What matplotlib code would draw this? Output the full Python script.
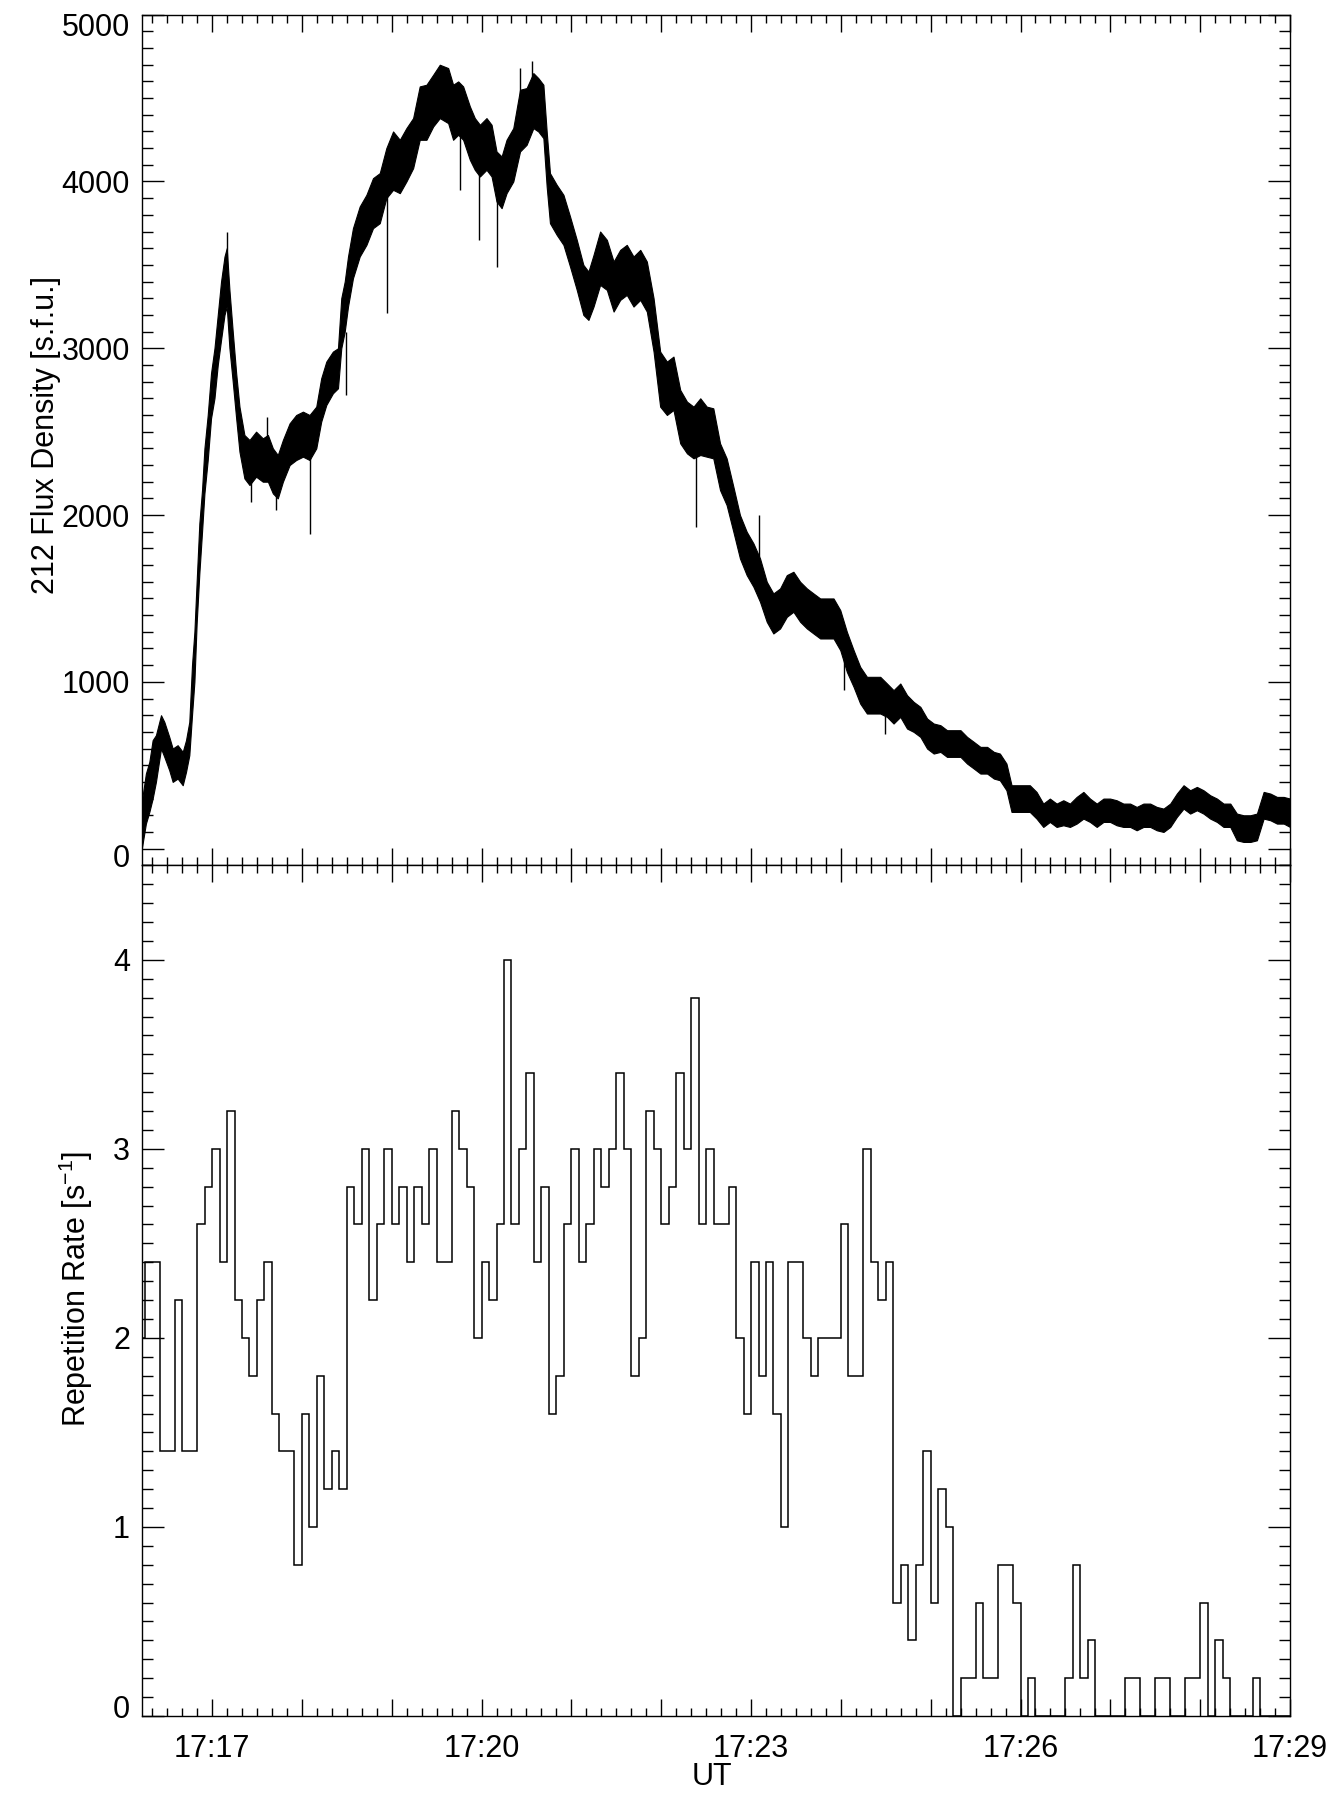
import numpy as np
import matplotlib
matplotlib.use("Agg")
import matplotlib.pyplot as plt
from matplotlib.ticker import FixedLocator, MultipleLocator
from matplotlib.transforms import ScaledTranslation

plt.rcParams['font.family'] = ['Liberation Sans', 'DejaVu Sans']
plt.rcParams['mathtext.fontset'] = 'custom'
plt.rcParams['mathtext.rm'] = 'Liberation Sans'
plt.rcParams['mathtext.it'] = 'Liberation Sans:italic'

# ---------------- data ----------------
# time in seconds after 17:16:00 UT
flux_time_s = [12.5, 15.8, 18.1, 20.3, 22.5, 25.9, 28.1, 31.4, 33.7, 37.0, 40.4, 42.6, 44.8,
               46.6, 48.2, 49.7, 51.5, 53.3, 54.9, 57.1, 59.3, 61.6, 63.8, 66.0, 68.3, 69.8,
               71.6, 73.8, 76.1, 78.3, 81.6, 85.0, 89.4, 93.9, 97.3, 100.6, 103.9, 107.3,
               111.8, 116.2, 120.7, 125.1, 129.6, 132.9, 136.3, 140.7, 144.1, 146.3, 148.6,
               150.8, 154.1, 158.6, 163.1, 167.5, 172.0, 176.4, 180.9, 185.4, 189.8, 194.3,
               198.7, 203.2, 207.7, 212.1, 217.7, 221.0, 224.4, 227.7, 232.2, 235.5, 238.9,
               243.3, 246.7, 250.0, 253.4, 256.7, 261.2, 265.7, 270.1, 274.6, 277.9, 281.3,
               283.5, 285.7, 290.2, 294.7, 299.1, 303.6, 308.0, 311.4, 314.8, 319.2, 323.7,
               328.2, 332.6, 337.0, 341.5, 346.0, 350.4, 354.9, 359.3, 363.8, 368.2, 372.7,
               377.2, 381.6, 386.1, 390.4, 394.8, 399.3, 403.7, 408.2, 412.6, 417.1, 421.6,
               426.0, 430.5, 434.9, 439.4, 443.9, 448.3, 452.8, 457.3, 461.7, 466.2, 470.6,
               475.1, 479.6, 484.0, 488.5, 492.9, 497.4, 501.9, 506.3, 510.8, 515.2, 519.7,
               524.2, 528.6, 533.1, 537.6, 542.0, 546.5, 550.9, 555.4, 559.9, 564.3, 568.8,
               573.2, 577.7, 582.2, 586.2, 590.6, 594.0, 597.3, 601.8, 606.2, 610.7, 615.2,
               619.6, 624.1, 628.6, 633.0, 637.5, 642.0, 646.4, 650.9, 655.4, 659.8, 664.2,
               668.7, 673.2, 677.6, 682.1, 686.6, 691.0, 695.5, 700.0, 704.4, 708.9, 713.3,
               717.8, 722.2, 726.7, 731.2, 735.6, 740.1, 744.5, 749.0, 753.5, 757.9, 762.4,
               766.9, 771.3, 775.8, 780.0]
flux_low = [-30, 150, 220, 300, 400, 600, 550, 470, 400, 420, 380, 460, 560,
            800, 1000, 1350, 1650, 1900, 2130, 2330, 2580, 2700, 2900, 3050, 3200, 3250,
            3000, 2800, 2580, 2380, 2220, 2180, 2230, 2200, 2200, 2130, 2100, 2200,
            2300, 2330, 2350, 2330, 2400, 2560, 2660, 2730, 2760, 3000, 3100,
            3250, 3420, 3550, 3620, 3720, 3750, 3900, 3950, 3930, 4000, 4080,
            4250, 4250, 4330, 4380, 4350, 4250, 4280, 4250, 4130, 4070, 4030,
            4070, 4030, 3880, 3840, 3930, 4000, 4180, 4220, 4320, 4300, 4260,
            3970, 3750, 3680, 3620, 3490, 3350, 3200, 3170, 3250, 3380, 3350,
            3220, 3290, 3320, 3250, 3290, 3220, 2980, 2650, 2600, 2630, 2430,
            2370, 2340, 2360, 2350, 2340, 2150, 2060, 1900, 1740, 1640, 1570,
            1480, 1360, 1290, 1320, 1390, 1420, 1360, 1320, 1290, 1260, 1260,
            1260, 1190, 1060, 970, 870, 810, 810, 810, 790, 750, 790,
            720, 700, 670, 600, 570, 580, 550, 550, 550, 510, 480,
            450, 450, 420, 410, 350, 220, 220, 220, 220, 180, 130,
            160, 130, 140, 130, 150, 180, 160, 130, 160, 160, 140,
            130, 130, 110, 130, 130, 110, 100, 130, 190, 240, 210,
            230, 210, 180, 160, 130, 130, 50, 40, 40, 50, 180,
            170, 150, 150, 130]
flux_high = [250, 450, 520, 650, 680, 800, 760, 670, 600, 620, 580, 650, 760,
             1100, 1300, 1600, 1950, 2150, 2400, 2600, 2850, 3000, 3200, 3400, 3550, 3600,
             3350, 3100, 2850, 2650, 2480, 2450, 2500, 2460, 2480, 2400, 2360, 2450,
             2550, 2600, 2620, 2600, 2650, 2820, 2920, 2980, 3000, 3300, 3400,
             3550, 3720, 3850, 3920, 4020, 4050, 4200, 4300, 4250, 4320, 4380,
             4570, 4580, 4640, 4700, 4680, 4580, 4600, 4570, 4450, 4380, 4340,
             4380, 4340, 4180, 4150, 4250, 4320, 4550, 4560, 4650, 4620, 4580,
             4300, 4050, 3980, 3920, 3790, 3650, 3500, 3460, 3560, 3700, 3650,
             3520, 3590, 3620, 3550, 3590, 3520, 3300, 2980, 2920, 2950, 2750,
             2680, 2650, 2700, 2650, 2640, 2430, 2340, 2170, 2000, 1900, 1830,
             1740, 1600, 1530, 1560, 1640, 1660, 1600, 1560, 1530, 1500, 1500,
             1500, 1430, 1300, 1190, 1090, 1030, 1030, 1030, 990, 950, 990,
             920, 880, 850, 780, 750, 740, 710, 710, 710, 670, 640,
             610, 610, 580, 570, 510, 380, 380, 380, 380, 340, 270,
             300, 270, 290, 270, 310, 340, 300, 270, 300, 300, 290,
             270, 270, 250, 270, 270, 250, 240, 270, 330, 380, 350,
             370, 350, 320, 300, 270, 270, 210, 200, 200, 210, 340,
             330, 310, 310, 300]

# isolated single-sample spikes: time, band level, spike tip
spike_time_s = [70.0, 86.1, 97.0, 102.8, 125.1, 149.7, 177.1, 225.5, 238.4, 250.0,
                265.7, 273.9, 383.4, 425.6, 482.2, 509.7]
spike_base = [3450, 2250, 2400, 2150, 2350, 3100, 3950, 4300, 4050, 3900,
              4400, 4500, 2350, 1750, 1150, 800]
spike_tip = [3700, 2080, 2590, 2030, 1885, 2720, 3210, 3950, 3650, 3490,
             4680, 4720, 1930, 2000, 950, 690]

# repetition rate histogram: 5-s bins starting at 17:16:10
rate_bin_start_s = 10
rate_bin_width_s = 5
rate_values = [2.0, 2.4, 2.4, 1.4, 1.4, 2.2, 1.4, 1.4, 2.6, 2.8,
               3.0, 2.4, 3.2, 2.2, 2.0, 1.8, 2.2, 2.4, 1.6, 1.4,
               1.4, 0.8, 1.6, 1.0, 1.8, 1.2, 1.4, 1.2, 2.8, 2.6,
               3.0, 2.2, 2.6, 3.0, 2.6, 2.8, 2.4, 2.8, 2.6, 3.0,
               2.4, 2.4, 3.2, 3.0, 2.8, 2.0, 2.4, 2.2, 2.6, 4.0,
               2.6, 3.0, 3.4, 2.4, 2.8, 1.6, 1.8, 2.6, 3.0, 2.4,
               2.6, 3.0, 2.8, 3.0, 3.4, 3.0, 1.8, 2.0, 3.2, 3.0,
               2.6, 2.8, 3.4, 3.0, 3.8, 2.6, 3.0, 2.6, 2.6, 2.8,
               2.0, 1.6, 2.4, 1.8, 2.4, 1.6, 1.0, 2.4, 2.4, 2.0,
               1.8, 2.0, 2.0, 2.0, 2.6, 1.8, 1.8, 3.0, 2.4, 2.2,
               2.4, 0.6, 0.8, 0.4, 0.8, 1.4, 0.6, 1.2, 1.0, 0.0,
               0.2, 0.2, 0.6, 0.2, 0.2, 0.8, 0.8, 0.6, 0.0, 0.2,
               0.0, 0.0, 0.0, 0.0, 0.2, 0.8, 0.2, 0.4, 0.0, 0.0,
               0.0, 0.0, 0.2, 0.2, 0.0, 0.0, 0.2, 0.2, 0.0, 0.0,
               0.2, 0.2, 0.6, 0.0, 0.4, 0.2, 0.0, 0.0, 0.0, 0.2,
               0.0, 0.0, 0.0, 0.0]

x_range_s = (13, 780)
x_major_s = [60, 120, 180, 240, 300, 360, 420, 480, 540, 600, 660, 720, 780]
x_labels = ['17:17', '', '', '17:20', '', '', '17:23', '', '', '17:26', '', '', '17:29']

# ---------------- figure ----------------
W, H = 1339, 1796
fig = plt.figure(figsize=(W / 100, H / 100), dpi=100)
L, R = 141.7, 1290.0
T1, B1, B2 = 14.7, 865.3, 1716.0
ax1 = fig.add_axes([L / W, 1 - B1 / H, (R - L) / W, (B1 - T1) / H])
ax2 = fig.add_axes([L / W, 1 - B2 / H, (R - L) / W, (B2 - B1) / H])

FS = 22
LW = 1.0

# top panel
ax1.fill_between(flux_time_s, flux_low, flux_high, color='black', lw=0.8)
ax1.vlines(spike_time_s, spike_base, spike_tip, color='black', lw=1.0)
ax1.set_ylim(-100, 5000)
ax1.yaxis.set_major_locator(FixedLocator([0, 1000, 2000, 3000, 4000, 5000]))
ax1.yaxis.set_minor_locator(MultipleLocator(100))

# bottom panel
edges = rate_bin_start_s + rate_bin_width_s * np.arange(len(rate_values) + 1)
ax2.stairs(rate_values, edges, baseline=None, color='black', lw=1.1)
ax2.set_ylim(0, 4.5)
ax2.yaxis.set_major_locator(FixedLocator([0, 1, 2, 3, 4]))
ax2.yaxis.set_minor_locator(MultipleLocator(0.1))

for ax in (ax1, ax2):
    ax.set_xlim(*x_range_s)
    ax.xaxis.set_major_locator(FixedLocator(x_major_s))
    ax.xaxis.set_minor_locator(MultipleLocator(10))
    ax.tick_params(which='both', direction='in', top=True, right=True,
                   width=1.0, color='black', labelsize=FS)
    ax.tick_params(axis='x', which='major', length=12.2, pad=13)
    ax.tick_params(axis='x', which='minor', length=6.1)
    ax.tick_params(axis='y', which='major', length=15.8, pad=8.4)
    ax.tick_params(axis='y', which='minor', length=7.9)
    for s in ax.spines.values():
        s.set_linewidth(LW)

ax1.tick_params(axis='x', labelbottom=False)
ax2.set_xticklabels(x_labels)

fig.text(46 / W, 1 - 435 / H, '212 Flux Density [s.f.u.]', rotation=90,
         ha='center', va='center', fontsize=FS)
fig.text(76 / W, 1 - 1289 / H, 'Repetition Rate [s$^{-1}$]', rotation=90,
         ha='center', va='center', fontsize=FS)
fig.text(712 / W, 1 - 1777 / H, 'UT', ha='center', va='center', fontsize=FS)

fig.canvas.draw()


def shift(label, dy_px):
    label.set_transform(label.get_transform() +
                        ScaledTranslation(0, dy_px / 100, fig.dpi_scale_trans))


t1 = ax1.yaxis.get_major_ticks()
shift(t1[0].label1, -7)
shift(t1[-1].label1, -10)
t2 = ax2.yaxis.get_major_ticks()
shift(t2[0].label1, 9.5)

fig.savefig('out.png', dpi=100)
